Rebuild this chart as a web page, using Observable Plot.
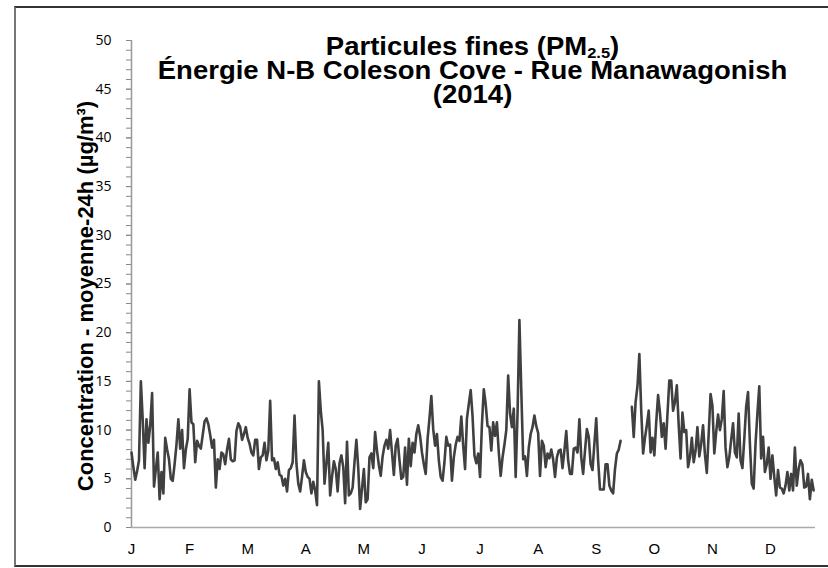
<!DOCTYPE html>
<html>
<head>
<meta charset="utf-8">
<script src="https://cdn.jsdelivr.net/npm/d3@7"></script>
<script src="https://cdn.jsdelivr.net/npm/@observablehq/plot@0.6"></script>
<style>
  html, body { margin: 0; padding: 0; background: #fff; }
  #wrap { position: relative; width: 828px; height: 568px; overflow: hidden; }
  #border { position: absolute; left: 14px; top: 6px; width: 830px; height: 561px; border: 2px solid #333; border-left-color: #777; box-sizing: border-box; }
  #title { position: absolute; left: 130px; width: 685px; top: 34px; text-align: center;
           font-family: "Liberation Sans", Arial, sans-serif; font-weight: bold; font-size: 25px; line-height: 24px; color: #000;
           transform: scaleX(1.1); transform-origin: 342px 0; }
  #title sub { font-size: 15px; vertical-align: -3px; line-height: 0; }
  svg { position: absolute; left: 0; top: 0; }
</style>
</head>
<body>
<div id="wrap">
  <div id="chart"></div>
  <div id="border"></div>
  <div id="title">Particules fines (PM<sub>2.5</sub>)<br>Énergie N-B Coleson Cove - Rue Manawagonish<br>(2014)</div>
</div>
<script>
// Daily 24-h mean PM2.5 (µg/m³), 2014, day index 0 = Jan 1; null = missing
const values = [
  7.7, 6.2, 4.9, 5.8, 6.9, 15.0, 11.0, 6.1, 11.1, 8.7,
  10.5, 13.8, 4.2, 6.0, 7.7, 2.9, 5.7, 3.5, 9.2, 8.0,
  7.0, 5.0, 4.8, 6.5, 8.5, 11.1, 8.1, 10.0, 6.1, 8.0,
  9.1, 14.2, 10.8, 10.6, 6.7, 8.9, 8.4, 8.1, 9.5, 10.9,
  11.2, 10.6, 9.5, 8.2, 9.0, 4.1, 7.0, 6.0, 7.7, 7.5,
  6.5, 8.0, 9.1, 7.0, 6.8, 6.9, 9.9, 10.7, 10.3, 9.0,
  9.6, 10.3, 9.2, 8.6, 7.7, 7.4, 9.0, 9.0, 6.0, 7.2,
  7.4, 8.7, 6.9, 7.9, 13.0, 6.9, 7.1, 6.0, 6.7, 5.4,
  5.3, 4.3, 5.0, 3.7, 5.9, 6.1, 6.7, 11.5, 6.6, 4.5,
  3.7, 5.2, 6.9, 5.7, 5.2, 5.0, 3.5, 4.7, 3.8, 2.3,
  15.0, 12.0, 10.0, 4.5, 6.6, 8.7, 3.3, 5.2, 6.8, 6.0,
  3.7, 6.6, 7.4, 6.2, 2.5, 8.8, 3.3, 3.5, 4.1, 6.7,
  9.0, 6.1, 1.9, 4.0, 6.0, 2.6, 2.9, 7.2, 7.6, 6.1,
  9.8, 7.9, 6.4, 5.3, 7.3, 8.4, 9.0, 8.1, 10.0, 7.7,
  5.4, 8.4, 9.1, 6.9, 5.0, 5.2, 8.2, 4.4, 9.1, 6.3,
  8.7, 7.7, 9.6, 10.5, 9.4, 7.7, 6.5, 5.5, 9.1, 11.2,
  13.5, 10.1, 8.4, 9.6, 6.9, 5.2, 4.8, 6.7, 9.3, 8.4,
  8.5, 4.8, 7.2, 8.5, 9.3, 8.9, 11.4, 8.4, 6.0, 11.2,
  12.7, 14.1, 11.4, 7.4, 6.6, 7.6, 5.2, 10.6, 14.2, 12.7,
  10.4, 10.3, 7.9, 10.8, 9.4, 10.8, 7.7, 5.3, 7.2, 8.5,
  10.0, 15.6, 11.7, 10.3, 12.2, 5.2, 11.7, 21.3, 14.1, 7.0,
  7.3, 5.3, 8.2, 9.6, 10.3, 11.5, 10.4, 9.7, 5.3, 8.9,
  8.4, 6.2, 7.6, 7.1, 8.0, 7.0, 5.2, 7.2, 7.9, 8.0,
  6.1, 7.9, 9.9, 6.9, 5.5, 5.5, 8.1, 8.2, 7.7, 11.1,
  7.2, 5.5, 7.9, 10.1, 9.3, 6.5, 5.9, 8.6, 11.2, 6.9,
  3.9, 3.9, 3.9, 6.5, 6.5, 4.3, 3.8, 3.5, 6.0, 7.6,
  8.0, 8.9, null, null, null, null, null, 12.4, 9.3, 12.9,
  14.5, 17.8, 12.0, 7.6, 9.2, 10.5, 12.0, 7.7, 9.2, 7.4,
  10.8, 13.6, 11.8, 9.3, 10.7, 8.1, 11.6, 15.1, 15.1, 12.0,
  12.9, 14.6, 10.5, 7.1, 11.8, 9.8, 10.0, 6.2, 7.2, 9.2,
  6.7, 7.9, 10.3, 7.3, 8.6, 10.5, 7.5, 5.6, 9.6, 13.7,
  12.5, 7.6, 9.8, 11.6, 10.0, 11.1, 14.0, 8.2, 6.2, 7.2,
  9.0, 10.7, 7.7, 7.2, 11.7, 6.9, 6.1, 9.1, 12.4, 13.9,
  8.6, 4.5, 4.0, 8.6, 11.7, 14.5, 7.1, 9.3, 5.7, 6.5,
  8.2, 5.0, 7.4, 5.2, 3.3, 5.9, 4.1, 4.0, 3.5, 4.3,
  5.7, 3.8, 5.5, 3.8, 8.2, 4.3, 6.0, 6.9, 6.5, 4.1,
  4.2, 5.5, 2.9, 4.9, 3.8
];
// Month tick labels, placed every 31 days as in the original date axis
const tickDays = [0, 31, 62, 93, 124, 155, 186, 217, 248, 279, 310, 341];
const monthLabels = ["J", "F", "M", "A", "M", "J", "J", "A", "S", "O", "N", "D"];
const yMajorTicks = [0, 5, 10, 15, 20, 25, 30, 35, 40, 45, 50];
const yMinorTicks = d3.range(0, 51, 1);
const yLabel = "Concentration - moyenne-24h (µg/m³)";

const data = values.map((v, i) => ({day: i, pm: v == null ? NaN : v}));

const chart = Plot.plot({
  width: 828,
  height: 568,
  marginLeft: 131,
  marginRight: 13,
  marginTop: 40,
  marginBottom: 41,
  style: {fontFamily: "Liberation Sans, Arial, sans-serif", fontSize: "14px", color: "#000", background: "transparent"},
  x: {domain: [0, 365]},
  y: {domain: [0, 50]},
  marks: [
    Plot.axisY({ticks: yMinorTicks, tickSize: 5, tickFormat: () => "", label: null, stroke: "#888"}),
    Plot.axisY({ticks: yMajorTicks, tickSize: 5, tickPadding: 15, label: null, fontSize: 14, stroke: "#888",
                fontFamily: "Open Sans, sans-serif"}),
    Plot.axisX({ticks: tickDays, tickSize: 0, tickPadding: 16, label: null,
                tickFormat: d => monthLabels[tickDays.indexOf(d)], fontSize: 15}),
    Plot.ruleX([0], {stroke: "#999", strokeWidth: 1.5}),
    Plot.ruleY([0], {stroke: "#aaa", strokeWidth: 1.5}),
    Plot.text([yLabel], {frameAnchor: "left", textAnchor: "middle", rotate: -90, dx: -46, dy: 12,
                         fontSize: 22, fontWeight: "bold", fill: "#000"}),
    Plot.line(data, {x: "day", y: "pm", stroke: "#404040", strokeWidth: 2.6, strokeLinejoin: "round"})
  ]
});
document.getElementById("chart").appendChild(chart);
</script>
</body>
</html>
